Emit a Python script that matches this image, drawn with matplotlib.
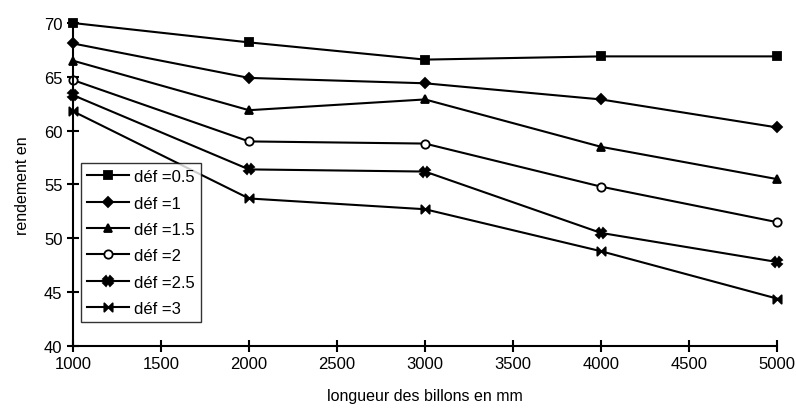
import matplotlib.pyplot as plt
from matplotlib.path import Path

longueur = [1000, 2000, 3000, 4000, 5000]
labels = ['déf =0.5', 'déf =1', 'déf =1.5', 'déf =2', 'déf =2.5', 'déf =3']
def_05 = [70.0, 68.2, 66.6, 66.9, 66.9]
def_1 = [68.1, 64.9, 64.4, 62.9, 60.3]
def_15 = [66.5, 61.9, 62.9, 58.5, 55.5]
def_2 = [64.7, 59.0, 58.8, 54.8, 51.5]
def_25 = [63.3, 56.4, 56.2, 50.5, 47.8]
def_3 = [61.8, 53.7, 52.7, 48.8, 44.4]
series = [def_05, def_1, def_15, def_2, def_25, def_3]

bowtie = Path([(-1, -1), (1, 1), (1, -1), (-1, 1), (-1, -1)],
              [Path.MOVETO, Path.LINETO, Path.LINETO, Path.LINETO, Path.CLOSEPOLY])
markers = ['s', 'D', '^', 'o', 'X', bowtie]
sizes = [6, 5, 6, 6, 7, 6]

plt.rcParams['font.family'] = ['Liberation Sans', 'DejaVu Sans']

fig = plt.figure(figsize=(7.96, 4.14), dpi=100)
ax = fig.add_axes([0.0917, 0.162, 0.8844, 0.780])

for vals, lab, m, s in zip(series, labels, markers, sizes):
    face = 'white' if m == 'o' else 'black'
    ax.plot(longueur, vals, color='black', lw=1.5, marker=m, ms=s,
            mfc=face, mec='black', mew=1.3, label=lab, clip_on=False)

ax.set_xlim(1000, 5000)
ax.set_ylim(40, 70)
ax.set_xticks(range(1000, 5001, 500))
ax.set_yticks(range(40, 71, 5))
ax.spines['top'].set_visible(False)
ax.spines['right'].set_visible(False)
ax.spines['left'].set_linewidth(1.5)
ax.spines['bottom'].set_linewidth(1.5)
ax.tick_params(direction='inout', length=9, width=1.5, labelsize=12, pad=3)

ax.set_xlabel('longueur des billons en mm', fontsize=11.5, labelpad=12)
ax.set_ylabel('rendement en', fontsize=11.5, labelpad=10)

leg = ax.legend(loc='upper left', bbox_to_anchor=(0.012, 0.565), fontsize=12,
                frameon=True, fancybox=False, edgecolor='black',
                handlelength=2.5, handletextpad=0.3, labelspacing=0.68,
                borderpad=0.35, borderaxespad=0)
leg.get_frame().set_linewidth(1.0)

fig.savefig('out.png', dpi=100)
